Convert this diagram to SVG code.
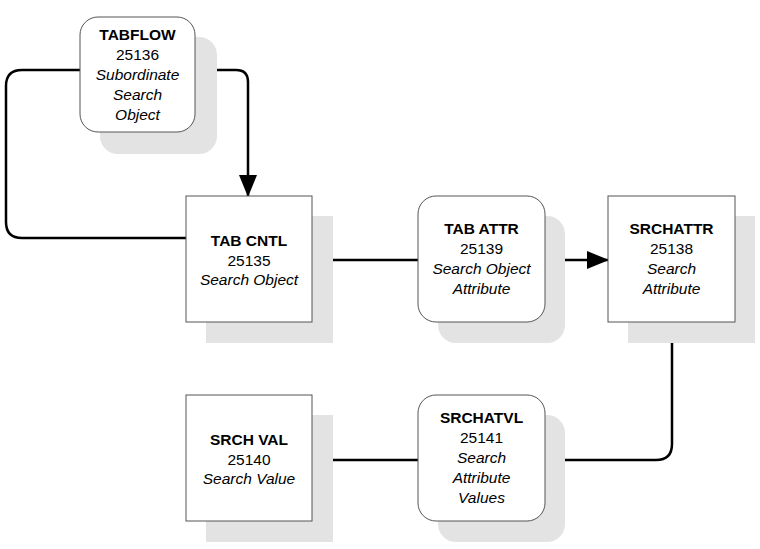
<svg xmlns="http://www.w3.org/2000/svg" width="760" height="549" viewBox="0 0 760 549">
<style>
.sh{fill:#e3e3e3}
.bx{fill:#fff;stroke:#555;stroke-width:1}
text{font-family:"Liberation Sans",Arial,sans-serif;font-size:15.5px;text-anchor:middle;fill:#000}
.b{font-weight:bold}
.i{font-style:italic}
.c{fill:none;stroke:#000;stroke-width:2.5}
</style>
<defs><marker id="a" markerWidth="10" markerHeight="10" refX="9" refY="5" orient="auto" markerUnits="userSpaceOnUse" viewBox="0 0 10 10"><path d="M0,0L10,5L0,10z" fill="#000"/></marker>
<marker id="a2" markerWidth="22" markerHeight="18" refX="21" refY="9" orient="auto" markerUnits="userSpaceOnUse" viewBox="0 0 22 18"><path d="M0,0L22,9L0,18z" fill="#000"/></marker></defs>
<g id="connectors">
<path class="c" d="M80,70H22Q6,70 6,86V222Q6,238 22,238H186"/>
<path class="c" d="M205,70H236Q248,70 248,82V196" marker-end="url(#a2)"/>
<path class="c" d="M312,260H418"/>
<path class="c" d="M545,260H608" marker-end="url(#a2)"/>
<path class="c" d="M672,323V444Q672,460 656,460H545"/>
<path class="c" d="M418,460H312" marker-end="url(#a2)"/>
</g>
<g id="tabflow"><rect class="sh" x="100" y="37" width="117" height="117" rx="18"/><rect class="bx" x="80" y="17" width="115" height="115" rx="18"/>
<text x="137.5" y="40" class="b">TABFLOW</text><text x="137.5" y="60">25136</text><text x="137.5" y="80" class="i">Subordinate</text><text x="137.5" y="100" class="i">Search</text><text x="137.5" y="120" class="i">Object</text></g>
<g id="tabcntl"><rect class="sh" x="206" y="216" width="127" height="127"/><rect class="bx" x="186" y="196" width="126" height="126"/>
<text x="249" y="246" class="b">TAB CNTL</text><text x="249" y="266">25135</text><text x="249" y="285" class="i">Search Object</text></g>
<g id="tabattr"><rect class="sh" x="438" y="216" width="127" height="127" rx="18"/><rect class="bx" x="418" y="196" width="127" height="126" rx="18"/>
<text x="481.5" y="234" class="b">TAB ATTR</text><text x="481.5" y="254">25139</text><text x="481.5" y="274" class="i">Search Object</text><text x="481.5" y="294" class="i">Attribute</text></g>
<g id="srchattr"><rect class="sh" x="628" y="216" width="127" height="127"/><rect class="bx" x="608" y="196" width="127" height="126"/>
<text x="671.5" y="234" class="b">SRCHATTR</text><text x="671.5" y="254">25138</text><text x="671.5" y="274" class="i">Search</text><text x="671.5" y="294" class="i">Attribute</text></g>
<g id="srchatvl"><rect class="sh" x="438" y="415" width="127" height="127" rx="18"/><rect class="bx" x="418" y="395" width="127" height="126" rx="18"/>
<text x="481.5" y="423" class="b">SRCHATVL</text><text x="481.5" y="443">25141</text><text x="481.5" y="463" class="i">Search</text><text x="481.5" y="483" class="i">Attribute</text><text x="481.5" y="503" class="i">Values</text></g>
<g id="srchval"><rect class="sh" x="206" y="415" width="127" height="127"/><rect class="bx" x="186" y="395" width="126" height="126"/>
<text x="249" y="445" class="b">SRCH VAL</text><text x="249" y="465">25140</text><text x="249" y="484" class="i">Search Value</text></g>
</svg>
